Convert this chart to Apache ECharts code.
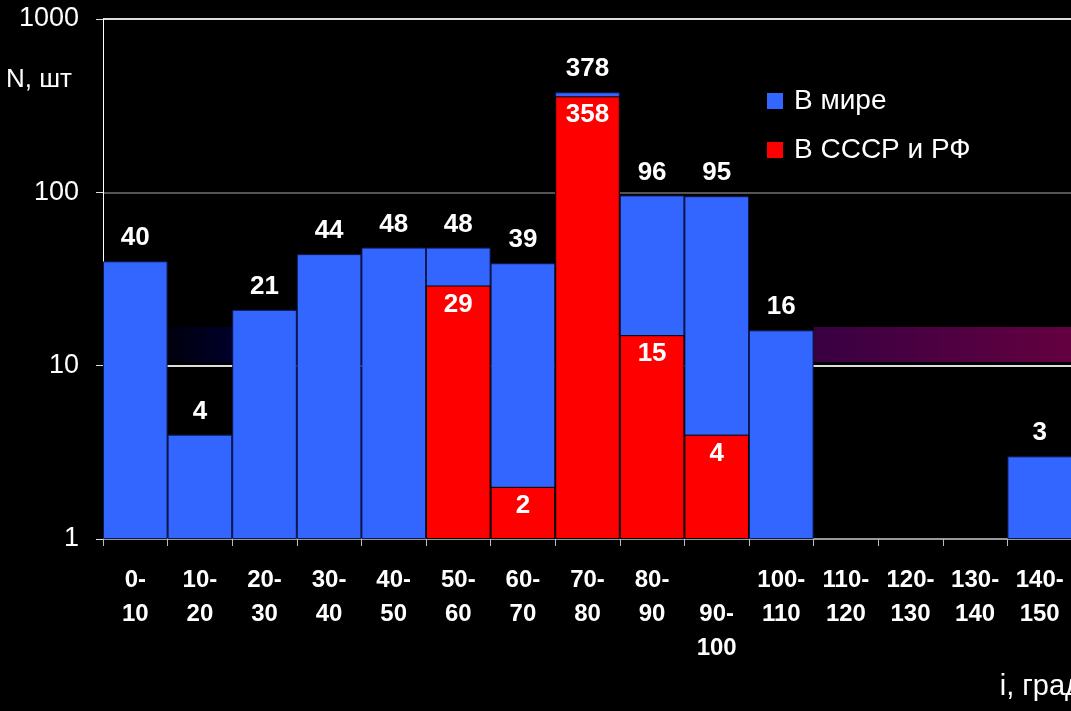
<!DOCTYPE html>
<html>
<head>
<meta charset="utf-8">
<script src="https://cdn.jsdelivr.net/npm/echarts@6/dist/echarts.min.js"></script>
<style>
  html, body { margin: 0; padding: 0; background: #000; }
  #chart { width: 1071px; height: 711px; }
</style>
</head>
<body>
<div id="chart"></div>
<script>
// интервалы наклонения, град
var categories = ['0-\n10', '10-\n20', '20-\n30', '30-\n40', '40-\n50', '50-\n60', '60-\n70', '70-\n80',
  '80-\n90', '\n90-\n100', '100-\n110', '110-\n120', '120-\n130', '130-\n140', '140-\n150']
// число КА в мире
var worldCounts = [40, 4, 21, 44, 48, 48, 39, 378, 96, 95, 16, null, null, null, 3]
// число КА в СССР и РФ
var ussrCounts = [null, null, null, null, null, 29, 2, 358, 15, 4, null, null, null, null, null]
// подсвеченные полосы: [первый интервал, последний интервал, низ, верх]
var highlightBands = [
  [1, 1, 10.5, 16.7],
  [11, 14, 10.5, 16.7]
]
var bandColors = [
  ['#00000e', '#00002a'],
  ['#380042', '#640040']
]

var chart = echarts.init(document.getElementById('chart'))
var font = 'Liberation Sans, Arial, sans-serif'

chart.setOption({
  backgroundColor: '#000',
  animation: false,
  textStyle: { fontFamily: font },
  grid: {
    left: 103,
    width: 969,
    top: 19,
    bottom: 172,
    outerBoundsMode: 'none',
    containLabel: false
  },
  legend: {
    data: ['В мире', 'В СССР и РФ'],
    orient: 'vertical',
    left: 767,
    top: 87,
    padding: 0,
    itemWidth: 16,
    itemHeight: 16,
    itemGap: 21,
    icon: 'rect',
    itemStyle: { borderWidth: 0 },
    textStyle: {
      color: '#fff',
      fontSize: 28,
      fontFamily: font,
      padding: [0, 0, 0, 6]
    }
  },
  xAxis: {
    type: 'category',
    data: categories,
    name: 'i, град',
    nameLocation: 'end',
    nameGap: 10,
    nameTextStyle: {
      color: '#fff',
      fontSize: 29,
      align: 'right',
      verticalAlign: 'top',
      padding: [133, 0, 0, 0]
    },
    axisLine: { lineStyle: { color: '#999', width: 1 } },
    axisTick: { show: true, interval: 0, length: 7, lineStyle: { color: '#bbb' } },
    axisLabel: {
      interval: 0,
      color: '#fff',
      fontSize: 24,
      fontWeight: 'bold',
      lineHeight: 34,
      margin: 24
    },
    splitLine: { show: false }
  },
  yAxis: {
    type: 'log',
    logBase: 10,
    min: 1,
    max: 1000,
    name: 'N, шт',
    nameLocation: 'end',
    nameGap: -61,
    nameTextStyle: {
      color: '#fff',
      fontSize: 26,
      align: 'right',
      verticalAlign: 'middle',
      padding: [0, 31, 0, 0]
    },
    axisLine: { show: true, lineStyle: { color: '#fff', width: 1 } },
    axisTick: { show: true, length: 7, lineStyle: { color: '#ddd' } },
    axisLabel: {
      color: '#fff',
      fontSize: 27,
      margin: 24,
      formatter: function(v) { return String(Math.round(v)) }
    },
    splitLine: {
      show: true,
      lineStyle: { color: ['#999', '#ddd', '#555', '#ddd'], width: 2 }
    }
  },
  series: [
    {
      type: 'custom',
      silent: true,
      z: 1,
      data: highlightBands,
      renderItem: function(params, api) {
        var start = api.value(0)
        var end = api.value(1)
        var lo = api.value(2)
        var hi = api.value(3)
        var step = api.coord([1, 10])[0] - api.coord([0, 10])[0]
        var p0 = api.coord([start, hi])
        var p1 = api.coord([end, lo])
        var x0 = p0[0] - step / 2
        var x1 = p1[0] + step / 2
        var c = bandColors[params.dataIndex]
        return {
          type: 'rect',
          shape: { x: x0, y: p0[1], width: x1 - x0, height: p1[1] - p0[1] },
          style: {
            fill: new echarts.graphic.LinearGradient(0, 0, 1, 0, [
              { offset: 0, color: c[0] },
              { offset: 1, color: c[1] }
            ])
          }
        }
      }
    },
    {
      name: 'В мире',
      type: 'bar',
      z: 2,
      data: worldCounts,
      barCategoryGap: '0%',
      barGap: '-100%',
      itemStyle: { color: '#3366ff', borderColor: '#0c1850', borderWidth: 1 },
      label: {
        show: true,
        position: 'top',
        distance: 10,
        color: '#fff',
        fontSize: 26,
        fontWeight: 'bold',
        fontFamily: font
      }
    },
    {
      name: 'В СССР и РФ',
      type: 'bar',
      z: 3,
      data: ussrCounts,
      barCategoryGap: '0%',
      barGap: '-100%',
      itemStyle: { color: '#ff0000', borderColor: '#000', borderWidth: 1 },
      label: {
        show: true,
        position: 'insideTop',
        distance: 6,
        color: '#fff',
        fontSize: 26,
        fontWeight: 'bold',
        fontFamily: font
      }
    }
  ]
})
</script>
</body>
</html>
